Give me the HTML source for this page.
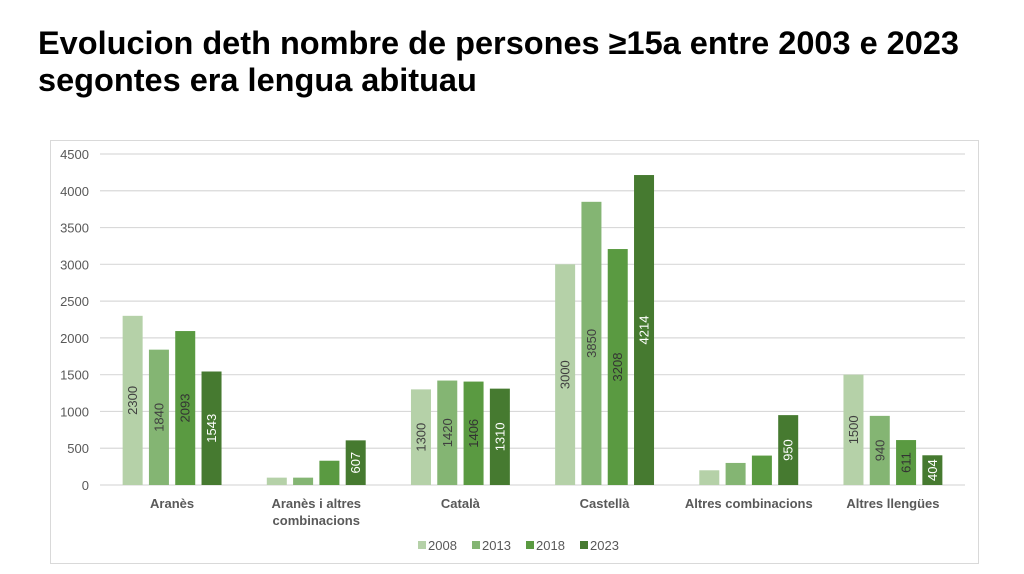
<!DOCTYPE html>
<html><head><meta charset="utf-8"><style>
body{margin:0;width:1024px;height:574px;background:#fff;overflow:hidden;font-family:"Liberation Sans",sans-serif}
h1{position:absolute;left:38px;top:25px;margin:0;font-size:32.5px;line-height:37px;font-weight:bold;color:#000;white-space:nowrap}
</style></head><body>
<h1>Evolucion deth nombre de persones ≥15a entre 2003 e 2023<br>segontes era lengua abituau</h1>
<svg id="c" width="1024" height="574" style="position:absolute;left:0;top:0"></svg>
<script>
const categories=[["Aranès"],["Aranès i altres","combinacions"],["Català"],["Castellà"],["Altres combinacions"],["Altres llengües"]];
const years=["2008","2013","2018","2023"];
const s2008=[2300,100,1300,3000,200,1500];
const s2013=[1840,100,1420,3850,300,940];
const s2018=[2093,330,1406,3208,400,611];
const s2023=[1543,607,1310,4214,950,404];
const labels2008=["2300","","1300","3000","","1500"];
const labels2013=["1840","","1420","3850","","940"];
const labels2018=["2093","","1406","3208","","611"];
const labels2023=["1543","607","1310","4214","950","404"];
const ticks=[0,500,1000,1500,2000,2500,3000,3500,4000,4500];
const series=[s2008,s2013,s2018,s2023];
const labs=[labels2008,labels2013,labels2018,labels2023];
const colors=["#b5d1a8","#84b573","#5a9a41","#467a30"];
const lcol=["#404040","#404040","#333","#fff"];
const svg=document.getElementById('c');const NS="http://www.w3.org/2000/svg";
const x0=100,x1=965,y0=485,y1=154,vmax=4500;
const y=v=>y0-(y0-y1)*v/vmax;
const bw=(x1-x0)/categories.length;
function mk(t,a,txt){const e=document.createElementNS(NS,t);for(const k in a)e.setAttribute(k,a[k]);if(txt!=null)e.textContent=txt;svg.appendChild(e);return e;}
const fr=mk('rect',{x:50.5,y:140.5,width:928,height:423,fill:'none',stroke:'#d9d9d9'});


ticks.forEach(t=>{
 const g=mk('line',{x1:x0,x2:x1,y1:y(t),y2:y(t),stroke:'#d9d9d9','stroke-width':1.2});
 
 
 const l=mk('text',{x:89,y:y(t)+5,'text-anchor':'end','font-size':13,fill:'#595959'},String(t));
 
 
});
const barW=20,step=26.3;
categories.forEach((c,i)=>{
 const cx=x0+bw*(i+0.5);
 series.forEach((s,j)=>{
  const bx=cx-2*step+3.15+j*step;
  const r=mk('rect',{x:bx,y:y(s[i]),width:barW,height:y0-y(s[i]),fill:colors[j]});
  
  
  if(labs[j][i]){
   const my=(y(s[i])+y0)/2,mx=bx+barW/2;
   const t=mk('text',{x:mx,y:my,'text-anchor':'middle','dominant-baseline':'central','font-size':13,fill:lcol[j],transform:`rotate(-90 ${mx} ${my})`},labs[j][i]);
   
   
  }
 });
 c.forEach((ln,k)=>{
  const t=mk('text',{x:cx,y:508+k*17,'text-anchor':'middle','font-size':13,'font-weight':'bold',fill:'#595959'},ln);
  
  
 });
});
const lx=[418,472,526,580];
years.forEach((yr,j)=>{
 const r=mk('rect',{x:lx[j],y:541,width:8,height:8,fill:colors[j]});
 
 
 const t=mk('text',{x:lx[j]+10,y:550,'font-size':13,fill:'#595959'},yr);
 
 
});
</script>
</body></html>
